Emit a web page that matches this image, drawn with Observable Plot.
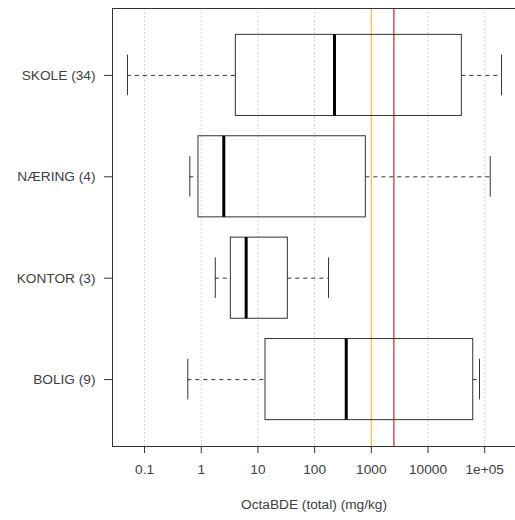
<!DOCTYPE html>
<html>
<head>
<meta charset="utf-8">
<script src="https://cdn.jsdelivr.net/npm/d3@7"></script>
<script src="https://cdn.jsdelivr.net/npm/@observablehq/plot@0.6"></script>
<style>
  html, body { margin: 0; padding: 0; background: #fff; }
</style>
</head>
<body>
<div id="chart"></div>
<script>
// Categories (bottom to top) and box statistics (mg/kg)
const categories = ["BOLIG (9)", "KONTOR (3)", "NÆRING (4)", "SKOLE (34)"];
const whiskerLow  = [0.58, 1.77, 0.63, 0.05];
const q1          = [13.6, 3.33, 0.895, 4.08];
const median      = [361, 6.2, 2.5, 224];
const q3          = [62700, 33.7, 800, 39500];
const whiskerHigh = [81000, 176, 125000, 198000];

// Reference lines
const refValues = [1000, 2500];
const refColors = ["#eec95c", "#c84848"];

// X axis ticks
const xTicks = [0.1, 1, 10, 100, 1000, 10000, 100000];
const xTickLabels = ["0.1", "1", "10", "100", "1000", "10000", "1e+05"];
const xTitle = "OctaBDE (total) (mg/kg)";

const rows = categories.map((c, i) => ({
  cat: c, pos: i + 1,
  lo: whiskerLow[i], q1: q1[i], med: median[i], q3: q3[i], hi: whiskerHigh[i]
}));
const refs = refValues.map((v, i) => ({v, color: refColors[i]}));

// R-style 4% axis extension on log scale
const lmin = Math.log10(d3.min(whiskerLow)), lmax = Math.log10(d3.max(whiskerHigh));
const ext = (lmax - lmin) * 0.04;
const xDomain = [10 ** (lmin - ext), 10 ** (lmax + ext)];
const yExt = (categories.length) * 0.04;
const yDomain = [0.5 - yExt, categories.length + 0.5 + yExt];

const ink = "#333";
const textInk = "#404040";

const chart = Plot.plot({
  width: 515,
  height: 520,
  marginLeft: 112,
  marginRight: 0,
  marginTop: 8,
  marginBottom: 74,
  style: {fontFamily: "'Liberation Sans', Arial, sans-serif", fontSize: "13.7px", color: textInk, background: "#fff"},
  x: {type: "log", domain: xDomain, range: [112, 516]},
  y: {type: "linear", domain: yDomain},
  marks: [
    // dotted vertical grid
    Plot.ruleX(xTicks, {x: d => d, stroke: "#c8c8c8", strokeDasharray: "1.5,2.5"}),
    // reference lines
    Plot.ruleX(refs, {x: "v", stroke: "color", strokeWidth: 1.4}),
    // whiskers
    Plot.ruleY(rows, {y: "pos", x1: "lo", x2: "q1", stroke: ink, strokeDasharray: "4,4"}),
    Plot.ruleY(rows, {y: "pos", x1: "q3", x2: "hi", stroke: ink, strokeDasharray: "4,4"}),
    // staples
    Plot.ruleX(rows, {x: "lo", y1: d => d.pos - 0.2, y2: d => d.pos + 0.2, stroke: ink}),
    Plot.ruleX(rows, {x: "hi", y1: d => d.pos - 0.2, y2: d => d.pos + 0.2, stroke: ink}),
    // boxes
    Plot.rect(rows, {x1: "q1", x2: "q3", y1: d => d.pos - 0.4, y2: d => d.pos + 0.4, fill: "none", stroke: ink}),
    // medians
    Plot.ruleX(rows, {x: "med", y1: d => d.pos - 0.4, y2: d => d.pos + 0.4, stroke: "#000", strokeWidth: 3}),
    // plot box (left, top, bottom)
    Plot.ruleX([xDomain[0]], {stroke: ink}),
    Plot.ruleY([yDomain[0], yDomain[1]], {stroke: ink}),
    // axes
    Plot.axisX({ticks: xTicks, tickFormat: (d, i) => xTickLabels[xTicks.indexOf(d)], tickSize: 7, tickPadding: 11, stroke: ink, label: null}),
    Plot.axisY({ticks: categories.map((c, i) => i + 1), tickFormat: d => categories[d - 1], tickSize: 8, tickPadding: 9, stroke: ink, label: null}),
    Plot.text([xTitle], {frameAnchor: "bottom", dy: 62, text: d => d, fill: textInk, fontSize: 13.7})
  ]
});
document.getElementById("chart").appendChild(chart);
</script>
</body>
</html>
